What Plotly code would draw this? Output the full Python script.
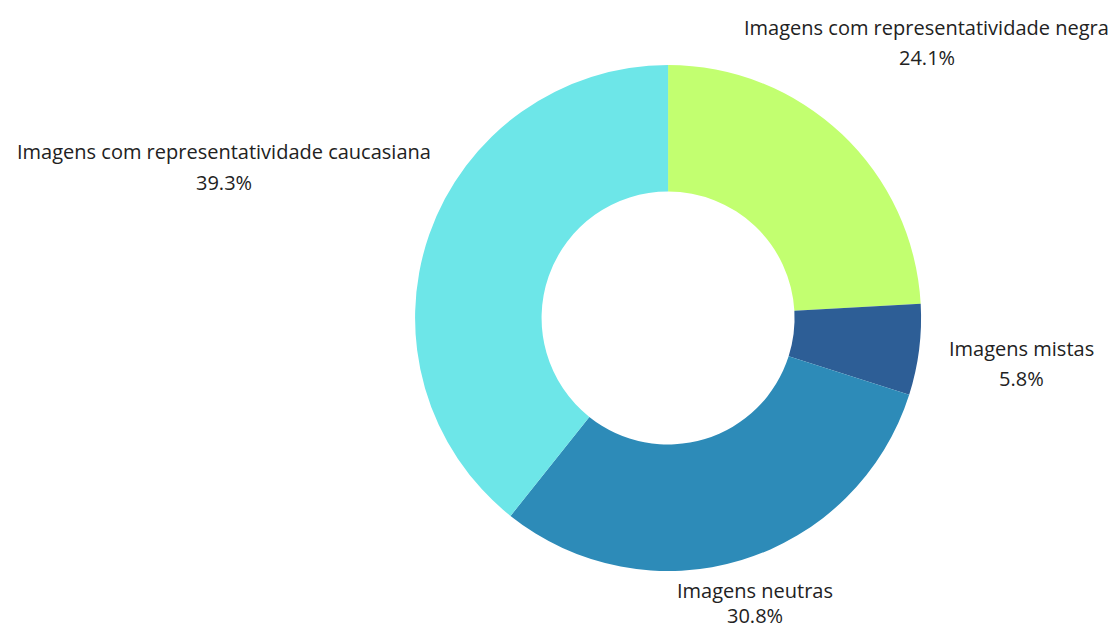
import plotly.graph_objects as go

labels = ["Imagens com representatividade negra", "Imagens mistas", "Imagens neutras",
          "Imagens com representatividade caucasiana"]
values = [24.1, 5.8, 30.8, 39.3]
colors = ["#C2FF70", "#2D5E96", "#2D8BB8", "#6DE6E8"]

# label anchor positions in pixels (center x, name line y, percent line y)
label_pos = [(927, 28, 57), (1021, 348, 378), (755, 590, 615), (224, 151, 182)]

W, H = 1120, 628
fig = go.Figure(go.Pie(
    labels=labels, values=values, hole=0.5, sort=False, direction="clockwise",
    rotation=0, marker=dict(colors=colors, line=dict(width=0)),
    textinfo="none", hoverinfo="label+percent", showlegend=False,
    domain=dict(x=[0.3, 0.893], y=[1 - 571 / H, 1 - 65 / H]),
))

font = dict(family="Open Sans, Noto Sans, sans-serif", size=20, color="#222222")
for lab, val, (cx, y1, y2) in zip(labels, values, label_pos):
    fig.add_annotation(x=cx / W, y=1 - y1 / H, xref="paper", yref="paper", text=lab,
                       showarrow=False, font=font, xanchor="center", yanchor="middle")
    fig.add_annotation(x=cx / W, y=1 - y2 / H, xref="paper", yref="paper", text=f"{val:.1f}%",
                       showarrow=False, font=font, xanchor="center", yanchor="middle")

fig.update_layout(width=W, height=H, margin=dict(l=0, r=0, t=0, b=0),
                  paper_bgcolor="white", plot_bgcolor="white")
fig.write_html("out.html", config={"displayModeBar": False},
               post_script="document.body.style.margin='0';document.body.style.overflow='hidden';")
